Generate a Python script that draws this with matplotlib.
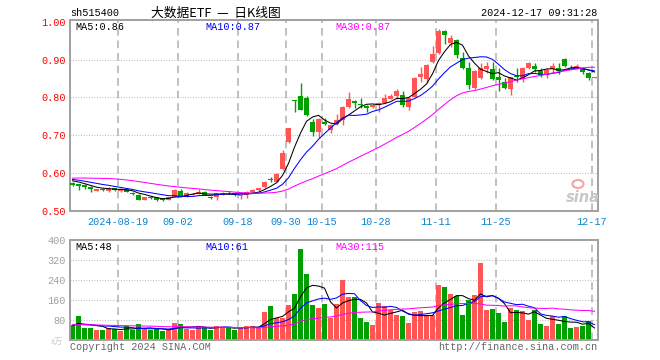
import numpy as np
import matplotlib
matplotlib.use("Agg")
import matplotlib.pyplot as plt
from matplotlib.patches import Ellipse

W, H = 660, 360

# ---------------- data ----------------
tick_labels = ['2024-08-19', '09-02', '09-18', '09-30', '10-15', '10-28', '11-11', '11-25', '12-17']
tick_index = [8, 18, 28, 36, 42, 51, 61, 71, 87]

opens = [0.575, 0.571, 0.568, 0.564, 0.553, 0.557, 0.553, 0.560, 0.553, 0.558,
         0.547, 0.543, 0.530, 0.536, 0.536, 0.534, 0.530, 0.537, 0.554, 0.538,
         0.543, 0.546, 0.550, 0.537, 0.537, 0.543, 0.551, 0.548, 0.540, 0.541,
         0.550, 0.555, 0.563, 0.584, 0.577, 0.610, 0.683, 0.792, 0.804, 0.799,
         0.734, 0.709, 0.736, 0.715, 0.729, 0.740, 0.775, 0.790, 0.783, 0.778,
         0.775, 0.780, 0.786, 0.797, 0.805, 0.807, 0.775, 0.802, 0.855, 0.849,
         0.894, 0.917, 0.976, 0.945, 0.951, 0.903, 0.879, 0.826, 0.852, 0.876,
         0.876, 0.853, 0.842, 0.823, 0.856, 0.849, 0.879, 0.884, 0.870, 0.859,
         0.876, 0.879, 0.902, 0.883, 0.881, 0.876, 0.865, 0.852]
closes = [0.569, 0.567, 0.564, 0.558, 0.557, 0.556, 0.561, 0.555, 0.557, 0.550,
          0.545, 0.530, 0.537, 0.535, 0.530, 0.529, 0.536, 0.555, 0.538, 0.548,
          0.546, 0.551, 0.543, 0.535, 0.547, 0.547, 0.549, 0.542, 0.541, 0.550,
          0.555, 0.560, 0.577, 0.582, 0.598, 0.652, 0.720, 0.791, 0.768, 0.753,
          0.709, 0.743, 0.729, 0.727, 0.740, 0.775, 0.796, 0.784, 0.781, 0.773,
          0.780, 0.786, 0.799, 0.805, 0.816, 0.779, 0.799, 0.852, 0.861, 0.886,
          0.914, 0.976, 0.966, 0.958, 0.912, 0.878, 0.834, 0.870, 0.879, 0.882,
          0.849, 0.847, 0.826, 0.853, 0.854, 0.877, 0.890, 0.876, 0.859, 0.873,
          0.882, 0.870, 0.882, 0.882, 0.882, 0.866, 0.852, 0.854]
highs = [0.577, 0.572, 0.570, 0.565, 0.559, 0.561, 0.563, 0.562, 0.560, 0.560,
         0.549, 0.545, 0.538, 0.539, 0.537, 0.535, 0.537, 0.557, 0.557, 0.549,
         0.548, 0.557, 0.552, 0.540, 0.548, 0.549, 0.554, 0.549, 0.543, 0.552,
         0.557, 0.562, 0.578, 0.589, 0.600, 0.661, 0.720, 0.792, 0.838, 0.804,
         0.743, 0.745, 0.745, 0.729, 0.755, 0.777, 0.815, 0.793, 0.798, 0.780,
         0.782, 0.788, 0.810, 0.808, 0.823, 0.816, 0.801, 0.855, 0.881, 0.888,
         0.935, 0.980, 0.978, 0.965, 0.954, 0.920, 0.894, 0.873, 0.890, 0.894,
         0.894, 0.877, 0.851, 0.855, 0.879, 0.881, 0.893, 0.890, 0.877, 0.877,
         0.890, 0.890, 0.905, 0.885, 0.887, 0.880, 0.867, 0.854]
lows = [0.567, 0.556, 0.559, 0.551, 0.552, 0.553, 0.551, 0.554, 0.551, 0.549,
        0.542, 0.529, 0.528, 0.532, 0.527, 0.526, 0.529, 0.536, 0.536, 0.537,
        0.541, 0.545, 0.542, 0.533, 0.528, 0.542, 0.545, 0.540, 0.531, 0.534,
        0.549, 0.554, 0.562, 0.576, 0.576, 0.607, 0.680, 0.762, 0.766, 0.752,
        0.698, 0.694, 0.727, 0.705, 0.727, 0.727, 0.773, 0.771, 0.771, 0.762,
        0.773, 0.762, 0.785, 0.795, 0.795, 0.775, 0.766, 0.800, 0.841, 0.838,
        0.892, 0.914, 0.942, 0.934, 0.905, 0.875, 0.823, 0.821, 0.848, 0.864,
        0.846, 0.817, 0.822, 0.807, 0.841, 0.842, 0.876, 0.866, 0.855, 0.852,
        0.866, 0.861, 0.880, 0.876, 0.876, 0.863, 0.845, 0.852]
volumes = [57, 94, 45, 45, 40, 40, 46, 41, 33, 54,
           38, 62, 41, 38, 41, 33, 41, 65, 64, 44,
           38, 52, 52, 40, 55, 46, 48, 40, 50, 53,
           56, 48, 110, 134, 86, 86, 140, 183, 364, 264,
           137, 126, 142, 87, 141, 238, 171, 171, 85, 69,
           57, 147, 133, 120, 97, 93, 66, 110, 114, 97,
           97, 218, 211, 182, 174, 97, 158, 178, 308, 117,
           121, 105, 69, 128, 120, 113, 80, 117, 61, 55,
           93, 61, 93, 48, 52, 55, 74, 3]

# closes / volumes before the visible window, estimated from where the MA lines start
prior_closes = [0.560, 0.565, 0.568, 0.563, 0.566, 0.570, 0.585, 0.592, 0.598, 0.603,
                0.600, 0.605, 0.610, 0.604, 0.598, 0.600, 0.602, 0.596, 0.594, 0.590,
                0.588, 0.590, 0.587, 0.584, 0.586, 0.583, 0.585, 0.582, 0.580]
prior_volumes = [62, 58, 65, 55, 60, 70, 57, 52, 63, 59, 66, 61, 54, 58, 64,
                 60, 56, 62, 59, 57, 61, 55, 58, 63, 56, 52, 60, 54, 58]

price_ma_labels = ['MA5:0.86', 'MA10:0.87', 'MA30:0.87']
vol_ma_labels = ['MA5:48', 'MA10:61', 'MA30:115']
ma_periods = [5, 10, 30]
ma_colors = ['#000000', '#0000ff', '#ff00ff']

# ---------------- helpers ----------------
UP = '#ff5555'
DOWN = '#00a000'
MONO = ['Liberation Mono', 'DejaVu Sans Mono']
CJK = ['Noto Sans CJK SC', 'DejaVu Sans']


def moving_average(prior, vals, n):
    full = np.array(list(prior) + list(vals), dtype=float)
    out = np.convolve(full, np.ones(n) / n, mode='valid')
    return out[-len(vals):]


n = len(closes)
x = np.arange(n)
o = np.array(opens); c = np.array(closes); hi = np.array(highs); lo = np.array(lows)
up = c >= o
cols = np.where(up, UP, DOWN)

fig = plt.figure(figsize=(W / 100, H / 100), dpi=100)
fig.patch.set_facecolor('white')


def ax_rect(l, t, r, b):
    return [l / W, 1 - b / H, (r - l) / W, (b - t) / H]


ax = fig.add_axes(ax_rect(70, 20, 598, 211))
axv = fig.add_axes(ax_rect(70, 240, 598, 339.5))

xl = (-0.417, n - 0.417)
grid_x = np.array(tick_index) - 0.42

for a in (ax, axv):
    a.set_xlim(*xl)
    for s in a.spines.values():
        s.set_color('#a0a0a0')
        s.set_linewidth(1.4)
    for gx in grid_x:
        a.axvline(gx, color='#b0b0b0', lw=1.1, dashes=(5, 3.2), zorder=0)

# --- price panel ---
ax.set_ylim(0.5, 1.0045)
for yv in [0.6, 0.7, 0.8, 0.9]:
    ax.axhline(yv, color='#b4b4b4', lw=0.8, dashes=(0.8, 1.6), zorder=0)

ax.vlines(x, lo, hi, colors=cols, lw=1.0, zorder=2)
body_b = np.minimum(o, c)
body_h = np.maximum(np.abs(c - o), 0.0018)
ax.bar(x, body_h, bottom=body_b, width=0.82, color=cols, linewidth=0, zorder=3)

for p, col in zip(ma_periods, ma_colors):
    ax.plot(x, moving_average(prior_closes, closes, p), color=col, lw=0.75, zorder=4)

ax.set_yticks([0.5, 0.6, 0.7, 0.8, 0.9, 1.0])
ax.set_yticklabels(['0.50', '0.60', '0.70', '0.80', '0.90', '1.00'])
ax.tick_params(axis='y', length=0, pad=3.2, labelcolor='#ff0000', labelsize=7.3)
for t in ax.get_yticklabels():
    t.set_family(MONO)
ax.set_xticks(grid_x)
ax.set_xticklabels(tick_labels)
ax.tick_params(axis='x', length=0, pad=4, labelcolor='#0a84d0', labelsize=7.3)
for t in ax.get_xticklabels():
    t.set_family(MONO)

# --- volume panel ---
axv.set_ylim(0, 400)
for yv in [80, 160, 240, 320]:
    axv.axhline(yv, color='#b4b4b4', lw=0.8, dashes=(0.8, 1.6), zorder=0)
axv.bar(x, volumes, width=0.86, color=cols, linewidth=0, zorder=2)
for p, col in zip(ma_periods, ma_colors):
    axv.plot(x, moving_average(prior_volumes, volumes, p), color=col, lw=0.75, zorder=4)
axv.set_yticks([80, 160, 240, 320, 400])
axv.set_yticklabels(['80', '160', '240', '320', '400'])
axv.tick_params(axis='y', length=0, pad=3.2, labelcolor='#a0a0a0', labelsize=7.3)
for t in axv.get_yticklabels():
    t.set_family(MONO)
axv.set_xticks([])

# --- texts ---
def ftext(px, py, s, **kw):
    fig.text(px / W, 1 - py / H, s, **kw)


ftext(70, 13, 'sh515400', ha='left', va='center', family=MONO, size=7.3, color='#000000')
ftext(216, 13, '大数据ETF  —  日K线图', ha='center', va='center', family=CJK, size=9.2, color='#000000')
ftext(597, 13, '2024-12-17 09:31:28', ha='right', va='center', family=MONO, size=7.3, color='#000000')

for lab, col, px in zip(price_ma_labels, ma_colors, [75, 205, 335]):
    ftext(px, 26.5, lab, ha='left', va='center', family=MONO, size=7.3, color=col)
for lab, col, px in zip(vol_ma_labels, ma_colors, [75, 205, 335]):
    ftext(px, 246.5, lab, ha='left', va='center', family=MONO, size=7.3, color=col)

ftext(63, 341, 'x万', ha='right', va='center', family=CJK, size=6, color='#c8c8c8')
ftext(70, 347.5, 'Copyright 2024 SINA.COM', ha='left', va='center', family=MONO, size=7.3, color='#666666')
ftext(597, 347.5, 'http://finance.sina.com.cn', ha='right', va='center', family=MONO, size=7.3, color='#666666')

# sina watermark
ftext(583, 197, 'sina', ha='center', va='center', size=10.5, color='#c8c8c8',
      style='italic', weight='bold', family='DejaVu Sans')
fig.patches.append(Ellipse((578 / W, 1 - 184 / H), 11 / W, 8 / H, transform=fig.transFigure,
                           facecolor='none', edgecolor='#f3a9a9', lw=1.6))

fig.savefig('out.png', dpi=100, facecolor='white')
